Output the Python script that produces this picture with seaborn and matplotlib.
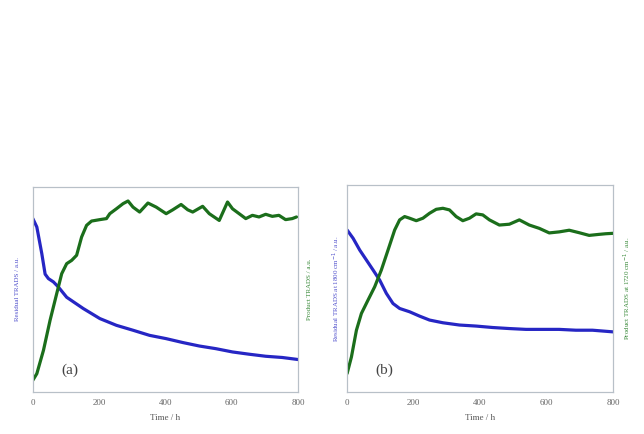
import numpy as np
import pandas as pd
import matplotlib as mpl
mpl.use('Agg')
import seaborn as sns
import matplotlib.pyplot as plt

sns.set_style("white")
plt.rcParams['font.family'] = ['Liberation Serif', 'DejaVu Serif']

# panel (a), normalised 0..1
a_res_t = [0, 12, 27, 37, 47, 62, 77, 102, 152, 202, 252, 302, 352, 402, 452, 502,
           552, 602, 652, 702, 752, 800]
a_res_v = [0.846, 0.805, 0.675, 0.575, 0.553, 0.537, 0.512, 0.462, 0.407, 0.358, 0.325,
           0.301, 0.276, 0.260, 0.241, 0.224, 0.211, 0.195, 0.184, 0.174, 0.168, 0.158]
a_prod_t = [0, 12, 32, 52, 72, 87, 102, 117, 132, 147, 162, 177, 202, 222, 232, 252,
            272, 287, 302, 322, 347, 372, 402, 422, 447, 467, 482, 512, 532, 562, 587,
            602, 622, 642, 662, 682, 702, 722, 742, 762, 782, 795]
a_prod_v = [0.057, 0.089, 0.203, 0.350, 0.480, 0.577, 0.626, 0.642, 0.667, 0.756, 0.813,
            0.834, 0.841, 0.846, 0.870, 0.894, 0.919, 0.932, 0.902, 0.878, 0.922, 0.902,
            0.870, 0.889, 0.915, 0.889, 0.878, 0.906, 0.870, 0.837, 0.927, 0.894, 0.870,
            0.846, 0.862, 0.854, 0.867, 0.857, 0.862, 0.841, 0.846, 0.854]

# panel (b)
b_res_t = [0, 18, 38, 58, 78, 98, 118, 138, 158, 188, 218, 248, 288, 338, 388, 438,
           488, 538, 588, 638, 688, 738, 800]
b_res_v = [0.782, 0.742, 0.685, 0.637, 0.589, 0.540, 0.476, 0.427, 0.403, 0.387, 0.366,
           0.347, 0.334, 0.323, 0.318, 0.311, 0.306, 0.302, 0.302, 0.302, 0.298, 0.298,
           0.290]
b_prod_t = [0, 13, 28, 43, 63, 83, 103, 123, 143, 158, 173, 188, 208, 228, 248, 268,
            288, 308, 328, 348, 368, 388, 408, 428, 458, 488, 518, 548, 578, 608, 638,
            668, 698, 728, 758, 778, 800]
b_prod_v = [0.089, 0.169, 0.298, 0.379, 0.444, 0.508, 0.589, 0.685, 0.782, 0.831, 0.847,
            0.839, 0.827, 0.839, 0.863, 0.882, 0.887, 0.879, 0.847, 0.827, 0.839, 0.860,
            0.855, 0.831, 0.806, 0.810, 0.831, 0.806, 0.790, 0.768, 0.773, 0.781, 0.769,
            0.756, 0.761, 0.764, 0.766]

x_ticks = [0, 200, 400, 600, 800]
blue = "#2626c4"
green = "#1b6e1b"
panels = [
    ("(a)", a_res_t, a_res_v, a_prod_t, a_prod_v,
     "Residual TRADS / a.u.", "Product TRADS / a.u.",
     [0.051, 0.097, 0.412, 0.472], 9),
    ("(b)", b_res_t, b_res_v, b_prod_t, b_prod_v,
     "Residual TRADS at 1800 cm$^{-1}$ / a.u.", "Product TRADS at 1720 cm$^{-1}$ / a.u.",
     [0.539, 0.097, 0.413, 0.477], 4),
]

fig = plt.figure(figsize=(6.44, 4.34), dpi=100)
for tag, rt, rv, pt, pv, ylab_l, ylab_r, rect, lpad in panels:
    ax = fig.add_axes(rect)
    ax2 = ax.twinx()
    sns.lineplot(x=rt, y=rv, ax=ax, color=blue, linewidth=2.3)
    sns.lineplot(x=pt, y=pv, ax=ax2, color=green, linewidth=2.3)
    for a in (ax, ax2):
        a.set_xlim(0, 800)
        a.set_ylim(0, 1)
        a.set_yticks([])
        for s in a.spines.values():
            s.set_color("#b8c0c8")
            s.set_linewidth(0.8)
    ax.set_xticks(x_ticks)
    ax.tick_params(axis='x', labelsize=6.5, colors="#666666", length=0, pad=5)
    ax.set_xlabel("Time / h", fontsize=6.5, color="#555555", labelpad=5)
    ax.set_ylabel(ylab_l, fontsize=5, color="#5050cc", labelpad=lpad)
    ax2.set_ylabel(ylab_r, fontsize=5, color="#3a8a3a", labelpad=6)
    ax.text(112, 0.105, tag, fontsize=11, color="#444444", ha='center', va='center')

fig.savefig("out.png", dpi=100)
